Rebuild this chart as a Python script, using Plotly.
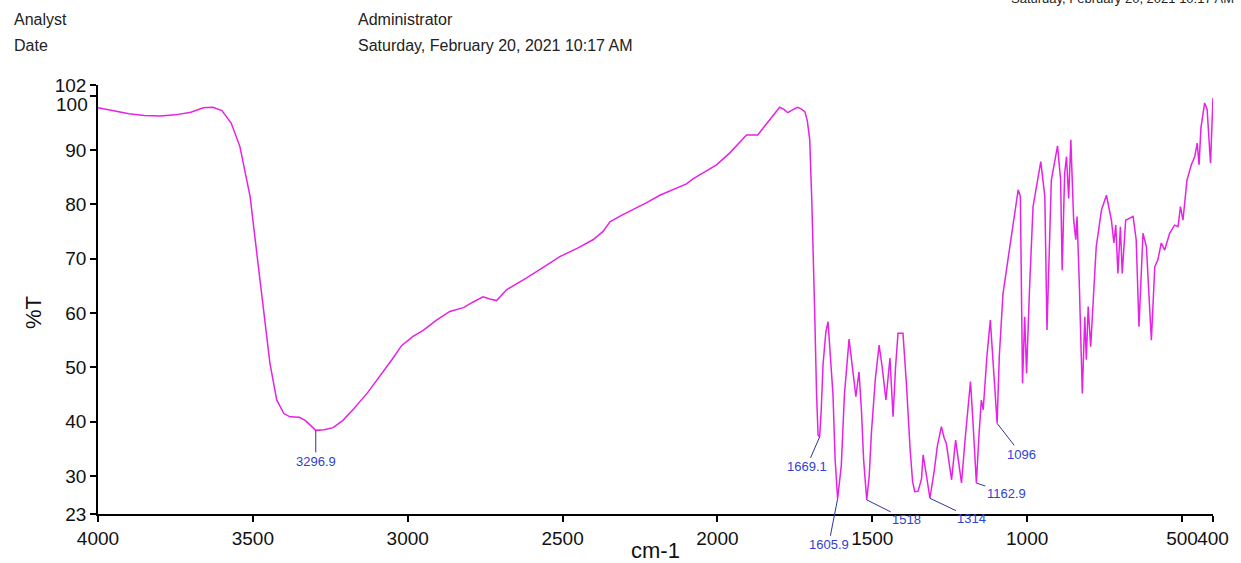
import plotly.graph_objects as go

# ---- data ----
wavenumber = [
    4000, 3950, 3900, 3850, 3800, 3750, 3700, 3660, 3629, 3600, 3570, 3542, 3509, 3477, 3445,
    3423, 3400, 3380, 3350, 3330, 3310, 3296.9, 3270, 3241, 3210, 3177, 3130, 3090, 3050, 3020,
    2983, 2950, 2907, 2864, 2820, 2790, 2757, 2735, 2713, 2681, 2650, 2616, 2560, 2509, 2450,
    2402, 2370, 2347, 2310, 2273, 2230, 2186, 2140, 2100, 2079, 2040, 2003, 1960, 1930, 1906,
    1870, 1840, 1815, 1799, 1785, 1773, 1755, 1741, 1730, 1718, 1710, 1702, 1695, 1690, 1686,
    1680, 1675, 1670, 1665, 1659, 1650, 1643, 1636, 1627, 1620, 1612, 1600, 1590, 1575, 1565,
    1553, 1543, 1535, 1528, 1518, 1510, 1503, 1490, 1478, 1468, 1456, 1443, 1433, 1425, 1417,
    1401, 1390, 1378, 1370, 1363, 1352, 1341, 1336, 1325, 1314, 1300, 1290, 1277, 1268, 1261,
    1244, 1231, 1212, 1200, 1183, 1175, 1164, 1155, 1148, 1142, 1130, 1119, 1108, 1097, 1090,
    1078, 1056, 1029, 1022, 1015, 1008, 1002, 992, 981, 956, 943, 936, 922, 902, 892,
    887, 879, 873, 866, 859, 850, 843, 839, 832, 822, 814, 809, 803, 795, 777,
    760, 744, 728, 720, 714, 707, 699, 693, 682, 658, 648, 639, 626, 615, 599,
    588, 578, 567, 556, 540, 524, 513, 505, 497, 484, 470, 459, 451, 445, 439,
    427, 419, 408, 400,
]
transmittance = [
    97.8, 97.2, 96.7, 96.4, 96.3, 96.5, 97.0, 97.8, 97.9, 97.3, 95.0, 90.7, 81.5, 66.1, 50.8,
    44.0, 41.5, 40.9, 40.8, 40.2, 39.0, 38.4, 38.5, 38.9, 40.2, 42.2, 45.3, 48.3, 51.5, 54.0,
    55.7, 56.8, 58.7, 60.3, 61.0, 62.0, 63.0, 62.6, 62.3, 64.3, 65.3, 66.5, 68.5, 70.4, 72.0,
    73.5, 75.0, 76.8, 78.0, 79.0, 80.3, 81.7, 82.8, 83.8, 84.7, 86.0, 87.3, 89.5, 91.3, 92.8,
    92.8, 95.0, 96.8, 97.9, 97.5, 96.9, 97.5, 97.9, 97.6, 97.1, 95.5, 91.9, 80.0, 66.0, 60.0,
    45.0, 37.5, 37.2, 42.0, 50.6, 56.5, 58.4, 53.0, 45.0, 33.0, 25.8, 32.0, 45.0, 55.2, 50.5,
    44.6, 49.2, 42.0, 33.0, 25.6, 30.0, 37.9, 48.0, 54.1, 50.0, 44.0, 51.7, 40.9, 50.0, 56.3,
    56.3, 47.1, 35.0, 29.0, 27.1, 27.2, 29.5, 33.9, 30.0, 25.9, 31.0, 35.5, 39.1, 37.0, 36.0,
    29.3, 36.6, 28.7, 37.0, 47.4, 40.0, 28.7, 38.0, 44.0, 42.2, 52.0, 58.7, 50.0, 39.7, 52.0,
    63.6, 72.2, 82.7, 81.5, 47.1, 59.3, 48.9, 65.0, 79.6, 87.9, 81.5, 56.9, 84.5, 90.8, 84.5,
    67.9, 85.7, 88.8, 81.1, 91.9, 77.2, 73.5, 77.8, 66.1, 45.2, 59.3, 51.4, 61.2, 53.8, 72.2,
    79.0, 81.7, 77.1, 72.9, 76.2, 67.3, 75.9, 67.3, 77.1, 77.8, 73.5, 57.5, 74.7, 72.2, 55.0,
    68.5, 69.8, 72.9, 71.6, 74.7, 76.2, 75.9, 79.6, 77.1, 84.5, 87.3, 88.8, 91.3, 87.3, 94.1,
    98.7, 97.5, 87.6, 99.6,
]

peak_labels = ["3296.9", "1669.1", "1605.9", "1518", "1314", "1162.9", "1096"]
peak_x = [3296.9, 1670, 1612, 1518, 1314, 1164, 1097]
peak_y = [38.4, 37.2, 25.8, 25.6, 25.9, 28.7, 39.7]
peak_ax = [0, -13, -9, 40, 42, 30, 24]
peak_ay = [31, 30, 46, 20, 20, 10, 31]

x_ticks = [4000, 3500, 3000, 2500, 2000, 1500, 1000, 500, 400]
y_ticks = [23, 30, 40, 50, 60, 70, 80, 90, 100, 102]

# ---- layout geometry ----
W, H = 1241, 563
L, R, T, B = 98, 1213, 85, 514


def px_x(px):
    return (px - L) / (R - L)


def px_y(py):
    return (B - py) / (B - T)


FONT = "Liberation Sans, Arial, sans-serif"
TICK_FONT = dict(family=FONT, size=19, color="#111111")

fig = go.Figure()
fig.add_trace(go.Scatter(
    x=wavenumber, y=transmittance, mode="lines",
    line=dict(color="#e622e6", width=1.5), hoverinfo="skip", showlegend=False,
))

annotations = []
for lab, px_, py_, ax, ay in zip(peak_labels, peak_x, peak_y, peak_ax, peak_ay):
    annotations.append(dict(
        x=px_, y=py_, xref="x", yref="y", text=lab, showarrow=True,
        arrowhead=0, arrowwidth=1, arrowcolor="#33339a", ax=ax, ay=ay,
        standoff=0, startstandoff=0,
        font=dict(family=FONT, size=13, color="#3040d4"),
    ))

header = [
    ("Analyst", 12, 20, "left", 16),
    ("Date", 12, 45, "left", 16),
    ("Administrator", 356, 20, "left", 16),
    ("Saturday, February 20, 2021 10:17 AM", 356, 45, "left", 16),
    ("Saturday, February 20, 2021 10:17 AM", 1236, -1, "right", 13),
]
for txt, hx, hy, anc, fs in header:
    annotations.append(dict(
        x=px_x(hx), y=px_y(hy), xref="paper", yref="paper", text=txt,
        showarrow=False, xanchor=anc, yanchor="middle",
        font=dict(family=FONT, size=fs, color="#222222"),
    ))

# "100" label nudged below the "102" label, as in the reference
annotations.append(dict(
    x=px_x(90), y=px_y(105), xref="paper", yref="paper", text="100",
    showarrow=False, xanchor="right", yanchor="middle", font=TICK_FONT,
))

annotations.append(dict(
    x=px_x(33), y=px_y(313), xref="paper", yref="paper", text="%T",
    showarrow=False, textangle=-90, xanchor="center", yanchor="middle",
    font=dict(family=FONT, size=22, color="#111111"),
))
annotations.append(dict(
    x=px_x(655), y=px_y(550), xref="paper", yref="paper", text="cm-1",
    showarrow=False, xanchor="center", yanchor="middle",
    font=dict(family=FONT, size=22, color="#111111"),
))

fig.update_layout(
    width=W, height=H,
    margin=dict(l=L, r=W - R, t=T, b=H - B, pad=0),
    paper_bgcolor="white", plot_bgcolor="white",
    annotations=annotations,
    showlegend=False,
)
fig.update_xaxes(
    range=[4000, 400], tickvals=x_ticks, ticktext=[str(v) for v in x_ticks],
    tickangle=0, showgrid=False, zeroline=False,
    showline=True, linecolor="black", linewidth=1.5,
    ticks="outside", ticklen=6, tickwidth=1.5, tickcolor="black",
    tickfont=TICK_FONT,
)
fig.update_yaxes(
    range=[23, 102], tickvals=y_ticks,
    ticktext=["" if v == 100 else str(v) for v in y_ticks],
    showgrid=False, zeroline=False,
    showline=True, linecolor="black", linewidth=1.5,
    ticks="outside", ticklen=6, tickwidth=1.5, tickcolor="black",
    tickfont=TICK_FONT,
)

fig.write_html("out.html")
